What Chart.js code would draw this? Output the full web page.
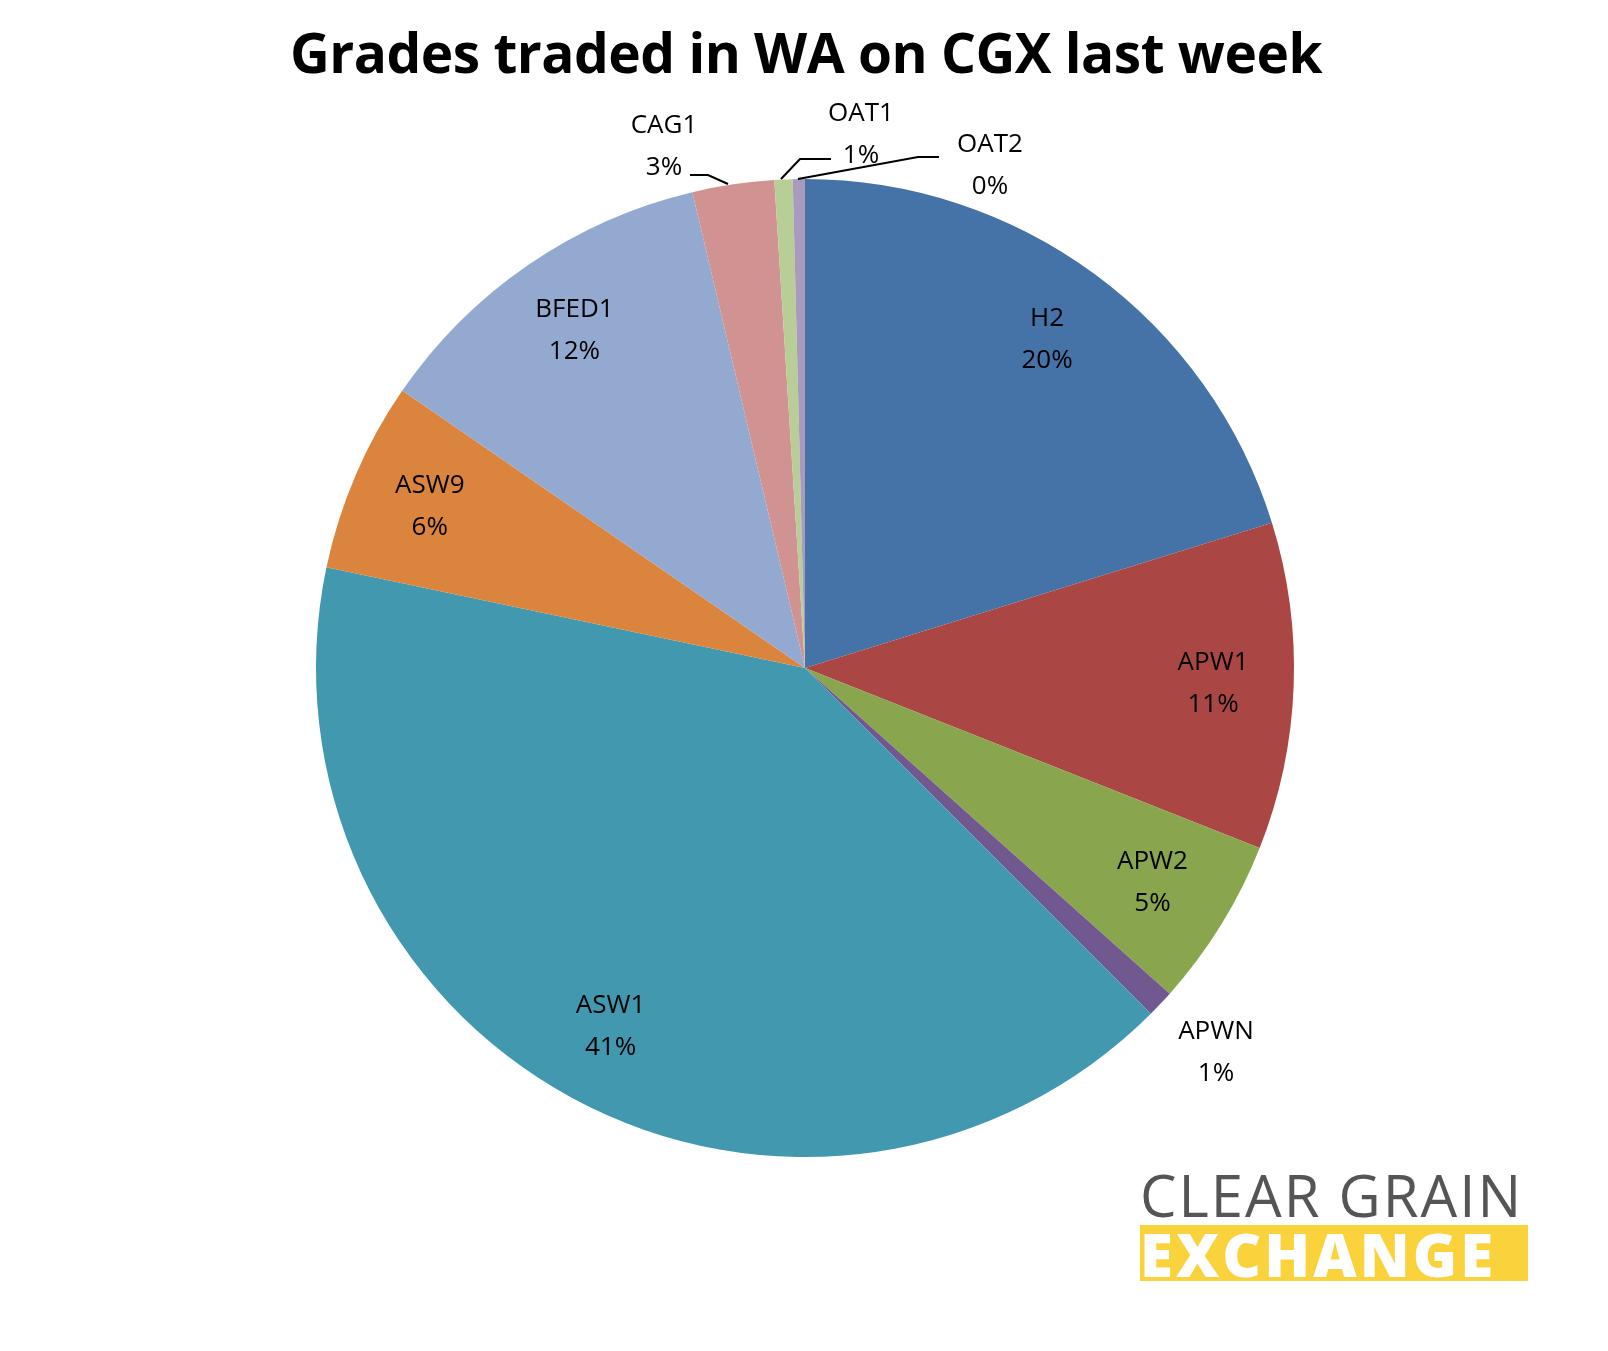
<!DOCTYPE html>
<html>
<head>
<meta charset="utf-8">
<script src="https://cdn.jsdelivr.net/npm/chart.js@4"></script>
<style>
  body { margin:0; background:#fff; }
  #wrap { position:relative; width:1608px; height:1351px; }
  #title { position:absolute; top:14px; left:10px; width:1592px; text-align:center;
           font:bold 55px "Open Sans", sans-serif; color:#000; letter-spacing:-0.5px; }
  #pie { position:absolute; left:0; top:0; }
  #logo { position:absolute; left:1140px; top:1165px; width:388px; }
  #logo .top { font:400 58px "Open Sans", sans-serif; color:#555; line-height:60px; letter-spacing:2px; white-space:nowrap; }
  #logo .bot { background:#f9d23c; color:#fff; font:800 60px "Open Sans", sans-serif; line-height:58px;
               height:56px; margin-top:0px; letter-spacing:3px; white-space:nowrap; overflow:hidden; }
</style>
</head>
<body>
<div id="wrap">
  <canvas id="pie" width="1608" height="1351"></canvas>
  <div id="title">Grades traded in WA on CGX last week</div>
  <div id="logo"><div class="top">CLEAR GRAIN</div><div class="bot">EXCHANGE</div></div>
</div>
<script>
// chart data
const grades  = ["H2","APW1","APW2","APWN","ASW1","ASW9","BFED1","CAG1","OAT1","OAT2"];
const shares  = [20.2, 10.8, 5.6, 0.9, 40.8, 6.3, 11.7, 2.7, 0.6, 0.4];
const pctText = ["20%","11%","5%","1%","41%","6%","12%","3%","1%","0%"];
const colors  = ["#4572a7","#aa4643","#89a54e","#71588f","#4198af","#db843d","#93a9cf","#d19392","#b9cd96","#a99bbd"];

// labels outside the pie: offset from centre + leader line points (relative to centre)
const outside = {
  3: { at:[411, 385] },
  7: { at:[-141,-521], line:[[-77,-484],[-97,-493],[-115,-493]] },
  8: { at:[ 56,-533], line:[[-24,-489],[-5,-509],[26,-509]] },
  9: { at:[185,-502], line:[[-7,-489],[113,-511],[134,-511]] }
};

const labelPlugin = {
  id: "sliceLabels",
  afterDatasetsDraw(chart) {
    const ctx = chart.ctx;
    const arcs = chart.getDatasetMeta(0).data;
    ctx.save();
    ctx.font = "26px 'Open Sans', sans-serif";
    ctx.fillStyle = "#000";
    ctx.textAlign = "center";
    ctx.textBaseline = "middle";
    arcs.forEach((arc, i) => {
      const cx = arc.x, cy = arc.y;
      let x, y;
      if (outside[i]) {
        x = cx + outside[i].at[0]; y = cy + outside[i].at[1];
        if (outside[i].line) {
          ctx.strokeStyle = "#000"; ctx.lineWidth = 2;
          ctx.beginPath();
          outside[i].line.forEach((p, k) => k ? ctx.lineTo(cx+p[0], cy+p[1]) : ctx.moveTo(cx+p[0], cy+p[1]));
          ctx.stroke();
        }
      } else {
        const mid = (arc.startAngle + arc.endAngle) / 2;
        const r = arc.outerRadius * 0.835;
        x = cx + Math.cos(mid) * r; y = cy + Math.sin(mid) * r;
      }
      ctx.fillText(grades[i], x, y - 21);
      ctx.fillText(pctText[i], x, y + 21);
    });
    ctx.restore();
  }
};

new Chart(document.getElementById("pie").getContext("2d"), {
  type: "pie",
  data: { labels: grades, datasets: [{ data: shares, backgroundColor: colors, borderWidth: 0 }] },
  options: {
    responsive: false,
    animation: false,
    layout: { padding: { left: 316, right: 314, top: 179, bottom: 194 } },
    plugins: { legend: { display: false }, tooltip: { enabled: false } }
  },
  plugins: [labelPlugin]
});
</script>
</body>
</html>
